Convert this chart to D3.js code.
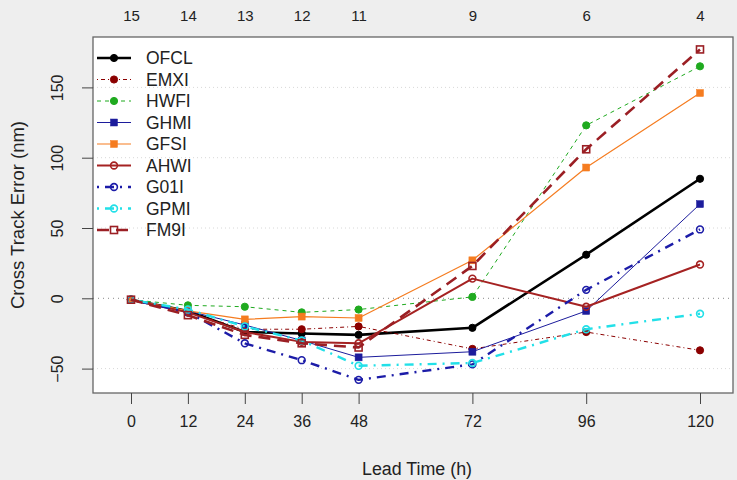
<!DOCTYPE html>
<html><head><meta charset="utf-8">
<script src="https://cdn.jsdelivr.net/npm/d3@7"></script>
<style>body{margin:0;background:#eeeeee;} svg{display:block;font-family:"Liberation Sans",Arial,sans-serif;}</style>
</head><body>
<svg id="c" width="737" height="480"></svg>
<script>
const leadTimes = [0, 12, 24, 36, 48, 72, 96, 120];
const caseCounts = ["15", "14", "13", "12", "11", "9", "6", "4"];
const yTicks = [-50, 0, 50, 100, 150];
const seriesNames = ["OFCL", "EMXI", "HWFI", "GHMI", "GFSI", "AHWI", "G01I", "GPMI", "FM9I"];
const OFCL = [-1, -9, -24, -25, -26, -21, 31, 85];
const EMXI = [-1, -10, -22, -22, -20, -36, -24, -37];
const HWFI = [-1, -5, -6, -10, -8, 1, 123, 165];
const GHMI = [-1, -9, -19, -30, -42, -38, -9, 67];
const GFSI = [-1, -9, -15, -13, -14, 27, 93, 146];
const AHWI = [-1, -10, -24, -31, -32, 14, -6, 24];
const G01I = [-1, -10, -32, -44, -58, -47, 6, 49];
const GPMI = [-1, -8, -20, -30, -48, -46, -22, -11];
const FM9I = [-1, -12, -26, -32, -35, 23, 106, 177];
const seriesValues = [OFCL, EMXI, HWFI, GHMI, GFSI, AHWI, G01I, GPMI, FM9I];

const styles = {
  OFCL: {color: "#000000", w: 2.6, dash: null, shape: "circle", fill: true},
  EMXI: {color: "#8b0000", w: 1, dash: "1,3,4,3", shape: "circle", fill: true},
  HWFI: {color: "#1faa1f", w: 1, dash: "4,4", shape: "circle", fill: true},
  GHMI: {color: "#1c1c9c", w: 1, dash: null, shape: "square", fill: true},
  GFSI: {color: "#f57c20", w: 1.2, dash: null, shape: "square", fill: true},
  AHWI: {color: "#a52222", w: 2, dash: null, shape: "circle", fill: false},
  G01I: {color: "#1c1ca8", w: 2.4, dash: "2,6,9,6", shape: "circle", fill: false},
  GPMI: {color: "#22e0e8", w: 2.4, dash: "2,6,9,6", shape: "circle", fill: false},
  FM9I: {color: "#9b1f24", w: 2.6, dash: "12,7", shape: "square", fill: false}
};

const svg = d3.select("#c");
const L = 93, R = 733, T = 37, B = 393;
const x = d3.scaleLinear().domain([0, 120]).range([131, 700]);
const y = d3.scaleLinear().domain([0, 150]).range([298.3, 87.4]);

svg.append("rect").attr("x", L).attr("y", T).attr("width", R - L).attr("height", B - T)
  .attr("fill", "#ffffff");

// grid
svg.append("g").selectAll("line").data(yTicks.filter(d => d !== 0)).join("line")
  .attr("x1", L).attr("x2", R).attr("y1", d => y(d)).attr("y2", d => y(d))
  .attr("stroke", "#d8d8d8").attr("stroke-width", 1).attr("stroke-dasharray", "1,3");
svg.append("line").attr("x1", L).attr("x2", R).attr("y1", y(0)).attr("y2", y(0))
  .attr("stroke", "#888").attr("stroke-width", 1).attr("stroke-dasharray", "1,4");

// box
svg.append("rect").attr("x", L).attr("y", T).attr("width", R - L).attr("height", B - T)
  .attr("fill", "none").attr("stroke", "#666").attr("stroke-width", 1.3);

// axes
const xAxis = d3.axisBottom(x).tickValues(leadTimes).tickSize(11).tickPadding(12);
const gx = svg.append("g").attr("transform", `translate(0,${B})`).call(xAxis);
gx.select(".domain").remove();
gx.selectAll(".tick line").attr("stroke", "#444");
gx.selectAll("text").attr("font-size", 16).attr("fill", "#222").attr("font-family", "Liberation Sans, Arial");

const yAxis = d3.axisLeft(y).tickValues(yTicks).tickSize(11).tickPadding(8);
const gy = svg.append("g").attr("transform", `translate(${L},0)`).call(yAxis);
gy.select(".domain").remove();
gy.selectAll(".tick line").attr("stroke", "#444");
gy.selectAll("text").attr("font-size", 16).attr("fill", "#222").attr("font-family", "Liberation Sans, Arial")
  .attr("text-anchor", "middle").attr("dy", null)
  .attr("transform", "translate(-30,0) rotate(-90)").attr("x", 0).attr("y", 0)
  .text(d => d < 0 ? "\u2212" + Math.abs(d) : d);

// top counts
const xTop = d3.axisTop(x).tickValues(leadTimes).tickSize(0).tickPadding(0)
  .tickFormat((d, i) => caseCounts[i]);
const gt = svg.append("g").attr("transform", "translate(0,21)").call(xTop);
gt.select(".domain").remove();
gt.selectAll("text").attr("font-size", 15).attr("fill", "#222").attr("font-family", "Liberation Sans, Arial");

// titles
svg.append("text").attr("x", 417).attr("y", 475).attr("text-anchor", "middle")
  .attr("font-size", 18).attr("fill", "#222").attr("textLength", 110).attr("lengthAdjust", "spacingAndGlyphs")
  .text("Lead Time (h)");
svg.append("text").attr("transform", "translate(24,215) rotate(-90)").attr("text-anchor", "middle")
  .attr("font-size", 18).attr("fill", "#222").attr("textLength", 188).attr("lengthAdjust", "spacingAndGlyphs")
  .text("Cross Track Error (nm)");

function marker(g, shape, st, cx, cy) {
  if (shape === "circle") {
    g.append("circle").attr("cx", cx).attr("cy", cy).attr("r", st.fill ? 3.6 : 3.4)
      .attr("fill", st.fill ? st.color : "none").attr("stroke", st.color)
      .attr("stroke-width", st.fill ? 1 : 1.6);
  } else {
    const s = 7;
    g.append("rect").attr("x", cx - s / 2).attr("y", cy - s / 2).attr("width", s).attr("height", s)
      .attr("fill", st.fill ? st.color : "none").attr("stroke", st.color)
      .attr("stroke-width", st.fill ? 0.5 : 1.6);
  }
}

const line = d3.line().x(d => x(d[0])).y(d => y(d[1]));
seriesNames.forEach((name, i) => {
  const st = styles[name];
  const pts = leadTimes.map((t, j) => [t, seriesValues[i][j]]);
  const g = svg.append("g");
  g.append("path").datum(pts).attr("d", line).attr("fill", "none")
    .attr("stroke", st.color).attr("stroke-width", st.w)
    .attr("stroke-dasharray", st.dash).attr("stroke-linejoin", "round");
  pts.forEach(p => marker(g, st.shape, st, x(p[0]), y(p[1])));
});

// legend
const lg = svg.append("g");
seriesNames.forEach((name, i) => {
  const st = styles[name];
  const ly = 58 + i * 21.5;
  lg.append("line").attr("x1", 97).attr("x2", 131).attr("y1", ly).attr("y2", ly)
    .attr("stroke", st.color).attr("stroke-width", st.w).attr("stroke-dasharray", st.dash);
  marker(lg, st.shape, st, 114, ly);
  lg.append("text").attr("x", 146).attr("y", ly + 6).attr("font-size", 17.5).attr("fill", "#222").text(name);
});
</script>
</body></html>
